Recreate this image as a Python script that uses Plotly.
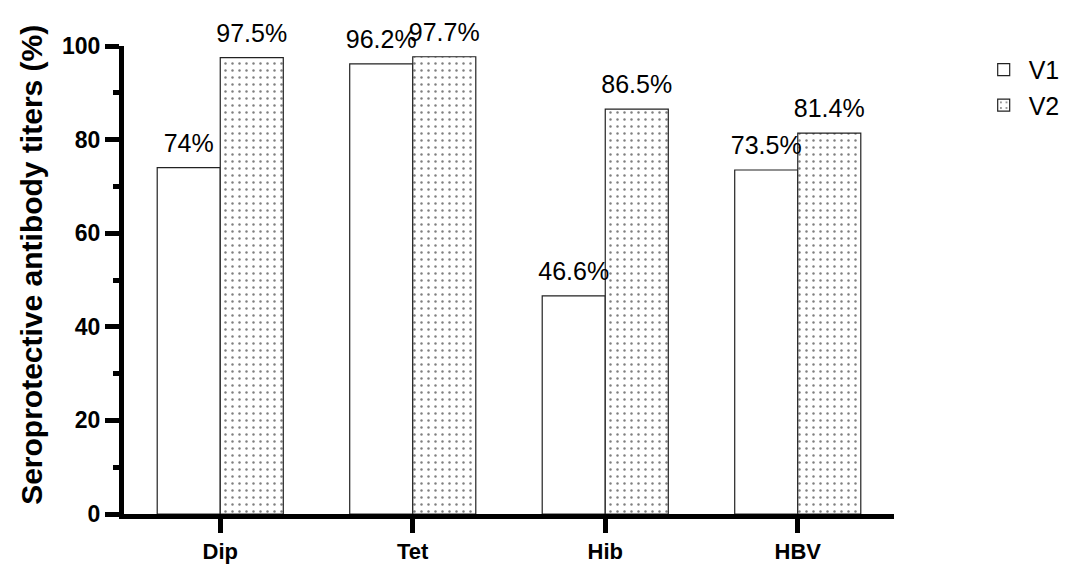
import plotly.graph_objects as go

categories = ["Dip", "Tet", "Hib", "HBV"]
v1_values = [74, 96.2, 46.6, 73.5]
v2_values = [97.5, 97.7, 86.5, 81.4]
v1_labels = ["74%", "96.2%", "46.6%", "73.5%"]
v2_labels = ["97.5%", "97.7%", "86.5%", "81.4%"]

FONT = "Liberation Sans, Arial, Helvetica, sans-serif"
LABEL_FONT = dict(size=25, color="black", family=FONT)

fig = go.Figure()
fig.add_trace(go.Bar(
    name="V1", x=categories, y=v1_values, offsetgroup="v1",
    marker=dict(color="white", line=dict(color="#222222", width=1.2)),
))
fig.add_trace(go.Bar(
    name="V2", x=categories, y=v2_values, offsetgroup="v2",
    marker=dict(color="white", line=dict(color="#222222", width=1.2),
                pattern=dict(shape=".", size=7, solidity=0.1,
                             fgcolor="black", bgcolor="white")),
))
# value labels, grouped to sit over their bars
for vals, labs, grp in [(v1_values, v1_labels, "v1"), (v2_values, v2_labels, "v2")]:
    fig.add_trace(go.Scatter(
        x=categories, y=vals, text=labs, offsetgroup=grp,
        mode="markers+text", textposition="top center",
        marker=dict(size=14, opacity=0), textfont=LABEL_FONT,
        cliponaxis=False, showlegend=False, hoverinfo="skip",
    ))

fig.update_layout(
    width=1066, height=558,
    barmode="group", scattermode="group", bargap=0.345, bargroupgap=0,
    plot_bgcolor="white", paper_bgcolor="white",
    margin=dict(l=116, r=180, t=38, b=52, autoexpand=False),
    font=dict(family=FONT, color="black"),
    legend=dict(x=1.11, y=0.998, xanchor="left", yanchor="top",
                font=dict(size=25, family=FONT), bgcolor="rgba(0,0,0,0)",
                itemwidth=40, tracegroupgap=12),
    showlegend=True,
    annotations=[dict(
        text="<b>Seroprotective antibody titers (%)</b>",
        xref="paper", yref="paper", x=-0.121, y=0.532,
        xanchor="center", yanchor="middle", textangle=-90, showarrow=False,
        font=dict(size=30, family=FONT, color="black"),
    )],
)
fig.update_xaxes(
    range=[-0.5, 3.5], showline=True, linewidth=5, linecolor="black",
    ticks="outside", ticklen=14, tickwidth=5, tickcolor="black",
    tickfont=dict(size=22, family=FONT, weight="bold"),
    showgrid=False, zeroline=False, automargin=False,
)
fig.update_yaxes(
    range=[0, 100], showline=True, linewidth=5, linecolor="black",
    ticks="outside", ticklen=14, tickwidth=5, tickcolor="black",
    dtick=20, tickfont=dict(size=23, family=FONT, weight="bold"),
    minor=dict(ticks="outside", ticklen=6, tickwidth=5, tickcolor="black", dtick=10),
    showgrid=False, zeroline=False, automargin=False,
)

fig.write_html("out.html")
